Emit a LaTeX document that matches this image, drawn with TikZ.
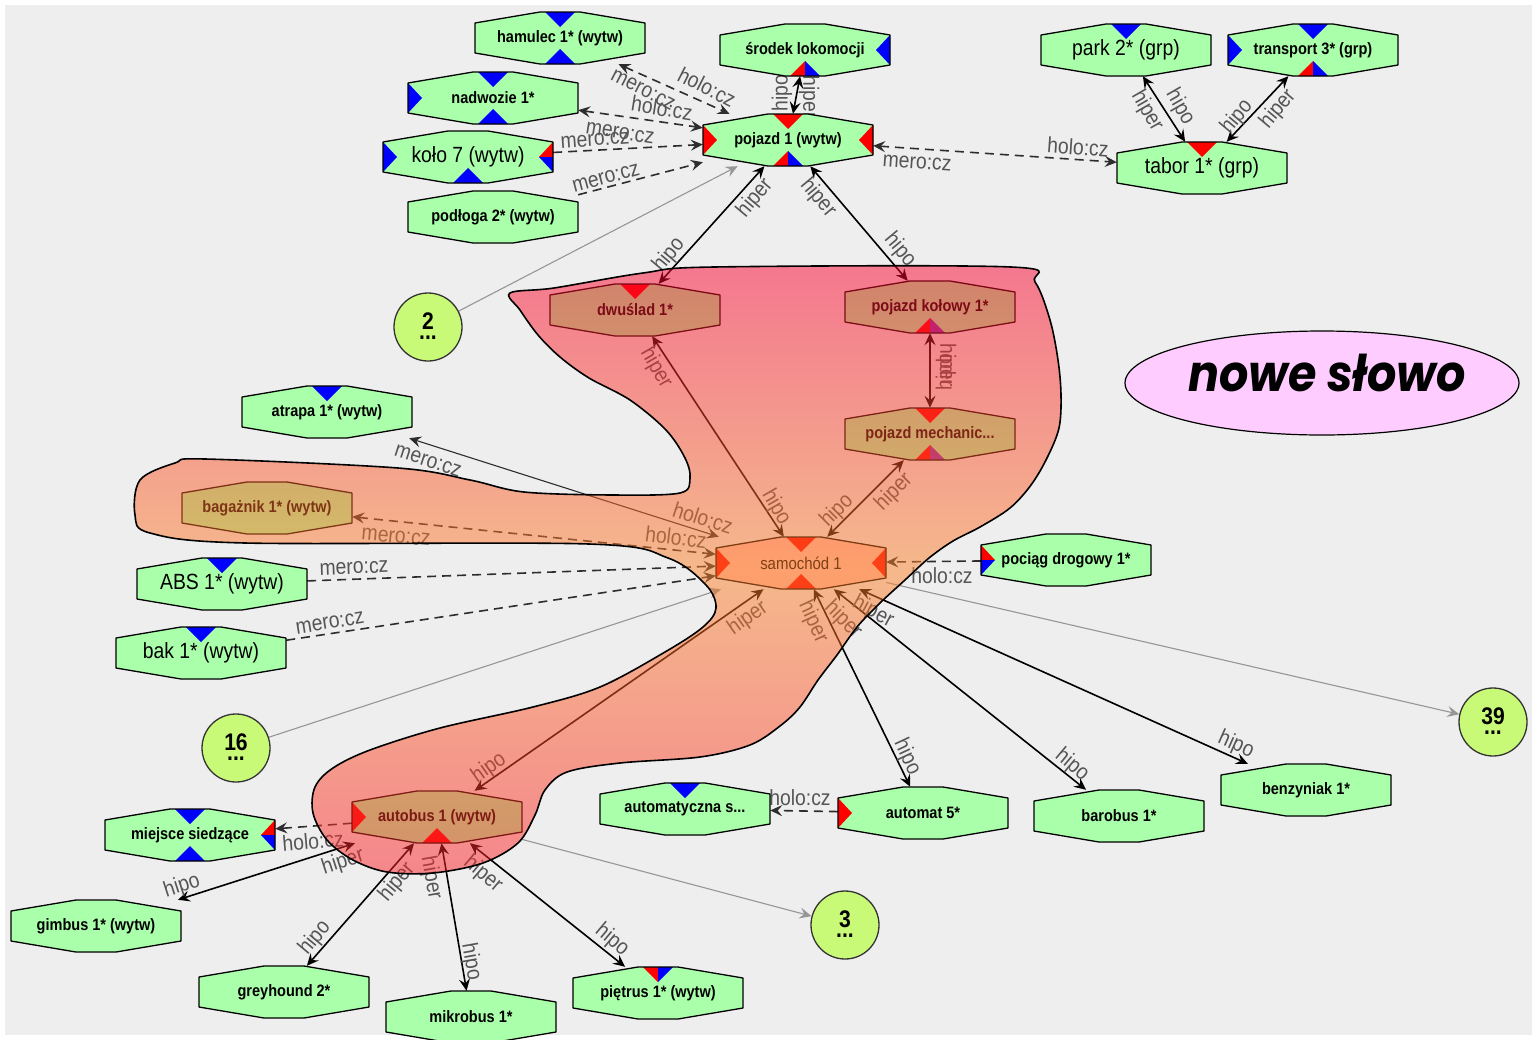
\documentclass[tikz,border=0pt]{standalone}
\usepackage{fontspec}
\usepackage{graphicx}
\setmainfont{Liberation Sans}
\newfontfamily\nfont[FakeStretch=0.88]{Liberation Sans}
\newfontfamily\pfont{Poppins}
\usetikzlibrary{arrows.meta,shapes.geometric}
\pgfdeclarelayer{bg}
\pgfdeclarelayer{edges}
\pgfdeclarelayer{blob}
\pgfsetlayers{bg,edges,main,blob}
\definecolor{ngreen}{RGB}{170,255,170}
\definecolor{nblue}{RGB}{0,0,255}
\definecolor{nred}{RGB}{255,0,0}
\definecolor{npurple}{RGB}{140,40,170}
\definecolor{bgray}{RGB}{238,238,238}
\definecolor{lblgray}{RGB}{85,85,85}
\definecolor{dashgray}{RGB}{45,45,45}
\definecolor{arrgray}{RGB}{150,150,150}
\definecolor{circfill}{RGB}{200,250,120}
\definecolor{salmon}{RGB}{255,190,178}
\definecolor{pinkfill}{RGB}{255,204,255}
\definecolor{blobtop}{RGB}{250,2,48}
\definecolor{blobmid}{RGB}{252,132,42}
\definecolor{blobbot}{RGB}{252,32,42}
\newcommand\nb{\nfont\bfseries\fontsize{16.5}{18}\selectfont}
\newcommand\nl{\nfont\fontsize{22}{24}\selectfont}
\newcommand\nsam{\nfont\fontsize{17}{19}\selectfont}
\newcommand\TT[1]{\fill[#1] (-15,-26) -- (15,-26) -- (0,-11) -- cycle;}
\newcommand\TB[1]{\fill[#1] (-15,26) -- (15,26) -- (0,11) -- cycle;}
\newcommand\TL[1]{\fill[#1] (-85,-15) -- (-85,15) -- (-71,0) -- cycle;}
\newcommand\TR[1]{\fill[#1] (85,-15) -- (85,15) -- (71,0) -- cycle;}
\newcommand\TTs[2]{\fill[#1] (-15,-26) -- (0,-26) -- (0,-11) -- cycle;\fill[#2] (0,-26) -- (15,-26) -- (0,-11) -- cycle;}
\newcommand\TBs[2]{\fill[#1] (-15,26) -- (0,26) -- (0,11) -- cycle;\fill[#2] (0,26) -- (15,26) -- (0,11) -- cycle;}
\newcommand\TRs[2]{\fill[#1] (85,-15) -- (71,0) -- (85,0) -- cycle;\fill[#2] (85,0) -- (71,0) -- (85,15) -- cycle;}
\newcommand\TLs[2]{\fill[#1] (-85,-15) -- (-71,0) -- (-85,0) -- cycle;\fill[#2] (-85,0) -- (-71,0) -- (-85,15) -- cycle;}
\newcommand\hexn[7]{%
  \begin{scope}[shift={(#2,#3)}]
    \fill[#4] (-85,-15) -- (-20,-26) -- (20,-26) -- (85,-15) -- (85,15) -- (20,26) -- (-20,26) -- (-85,15) -- cycle;
    #5
    \draw[line width=1.3pt, line join=round] (-85,-15) -- (-20,-26) -- (20,-26) -- (85,-15) -- (85,15) -- (20,26) -- (-20,26) -- (-85,15) -- cycle;
  \end{scope}
  \node[hexlbl, font=#6] (#1) at (#2,#3) {#7};
}
\newcommand\lb[5]{\node[lbl, rotate=#5] (#1) at (#3,#4) {#2};}
\tikzset{
  hexlbl/.style={rectangle, minimum width=170pt, minimum height=52pt, inner sep=0pt, text=black},
  rel/.style={line width=1.6pt, draw=black, <->},
  arel/.style={line width=1.1pt, draw=dashgray, <->},
  drel/.style={line width=1.6pt, draw=dashgray, dash pattern=on 9pt off 6pt, <->},
  drelone/.style={line width=1.6pt, draw=dashgray, dash pattern=on 9pt off 6pt, ->},
  grel/.style={line width=1.1pt, draw=arrgray, ->},
  lbl/.style={font=\nfont\fontsize{22}{24}\selectfont, text=lblgray, inner sep=0pt},
  circ/.style={circle, draw=black!80, line width=1.3pt, fill=circfill, minimum size=68pt, inner sep=0pt},
  cnum/.style={font=\nfont\bfseries\fontsize{24}{24}\selectfont, inner sep=0pt},
}
\begin{document}
\begin{tikzpicture}[x=1pt, y=-1pt, >={Stealth[length=12pt,width=11pt,inset=4.5pt]}]
\useasboundingbox (0,0) rectangle (1537,1039);
\begin{pgfonlayer}{bg}
\fill[white] (0,0) rectangle (1537,1039);
\fill[bgray] (5,5) rectangle (1532,1035);
\end{pgfonlayer}

% ---------- nodes ----------
\hexn{ham}{560}{38}{ngreen}{\TT{nblue}\TB{nblue}}{\nb}{hamulec 1* (wytw)}
\hexn{srod}{805}{50}{ngreen}{\TR{nblue}\TBs{nred}{nblue}}{\nb}{środek lokomocji}
\hexn{nadw}{493}{98}{ngreen}{\TL{nblue}\TT{nblue}\TB{nblue}}{\nb}{nadwozie 1*}
\hexn{kolo}{468}{157}{ngreen}{\TL{nblue}\TB{nblue}\TRs{nred}{nblue}}{\nl}{koło 7 (wytw)}
\hexn{podl}{493}{217}{ngreen}{}{\nb}{podłoga 2* (wytw)}
\hexn{poj}{788}{140}{ngreen}{\TL{nred}\TT{nred}\TR{nred}\TBs{nred}{nblue}}{\nb}{pojazd 1 (wytw)}
\hexn{park}{1126}{50}{ngreen}{\TT{nblue}}{\nl}{park 2* (grp)}
\hexn{transp}{1313}{50}{ngreen}{\TL{nblue}\TT{nblue}\TBs{nred}{nblue}}{\nb}{transport 3* (grp)}
\hexn{tabor}{1202}{168}{ngreen}{\TT{nred}}{\nl}{tabor 1* (grp)}
\hexn{dwus}{635}{310}{ngreen}{\TT{nred}}{\nb}{dwuślad 1*}
\hexn{kolowy}{930}{307}{ngreen}{\TBs{nred}{npurple}}{\nb}{pojazd kołowy 1*}
\hexn{mech}{930}{434}{ngreen}{\TT{nred}\TBs{nred}{npurple}}{\nb}{pojazd mechanic...}
\hexn{atrapa}{327}{412}{ngreen}{\TT{nblue}}{\nb}{atrapa 1* (wytw)}
\hexn{bagaz}{267}{508}{ngreen}{}{\nb}{bagażnik 1* (wytw)}
\hexn{samo}{801}{563}{salmon}{\TL{nred}\TT{nred}\TB{nred}\TR{nred}}{\nsam}{samochód 1}
\hexn{pociag}{1066}{560}{ngreen}{\TLs{nred}{nblue}}{\nb}{pociąg drogowy 1*}
\hexn{abs}{222}{584}{ngreen}{\TT{nblue}}{\nl}{ABS 1* (wytw)}
\hexn{bak}{201}{653}{ngreen}{\TT{nblue}}{\nl}{bak 1* (wytw)}
\hexn{autob}{437}{817}{ngreen}{\TL{nred}\TB{nred}}{\nb}{autobus 1 (wytw)}
\hexn{miejsce}{190}{835}{ngreen}{\TT{nblue}\TB{nblue}\TRs{nred}{nblue}}{\nb}{miejsce siedzące}
\hexn{autsa}{685}{809}{ngreen}{\TT{nblue}}{\nb}{automatyczna s...}
\hexn{autom}{923}{813}{ngreen}{\TL{nred}}{\nb}{automat 5*}
\hexn{barob}{1119}{816}{ngreen}{}{\nb}{barobus 1*}
\hexn{benz}{1306}{790}{ngreen}{}{\nb}{benzyniak 1*}
\hexn{gimb}{96}{926}{ngreen}{}{\nb}{gimbus 1* (wytw)}
\hexn{grey}{284}{992}{ngreen}{}{\nb}{greyhound 2*}
\hexn{mikro}{471}{1017}{ngreen}{}{\nb}{mikrobus 1*}
\hexn{pietr}{658}{993}{ngreen}{\TTs{nred}{nblue}}{\nb}{piętrus 1* (wytw)}

% circles
\node[circ] (c2) at (428,327) {};
\node[cnum] (c2n) at (428,321) {2};
\node[cnum] (c2d) at (428,338) {...};
\node[circ] (c16) at (236,748) {};
\node[cnum] (c16n) at (236,742) {16};
\node[cnum] (c16d) at (236,759) {...};
\node[circ] (c39) at (1493,722) {};
\node[cnum] (c39n) at (1493,716) {39};
\node[cnum] (c39d) at (1493,733) {...};
\node[circ] (c3) at (845,925) {};
\node[cnum] (c3n) at (845,919) {3};
\node[cnum] (c3d) at (845,936) {...};

% new word
\node[ellipse, draw=black, line width=1.2pt, fill=pinkfill, minimum width=394pt, minimum height=104pt, inner sep=0pt] (nowe) at (1322,383) {};
\node[inner sep=0pt] (nowet) at (1327,373) {\scalebox{1}[1.1]{\pfont\bfseries\itshape\fontsize{46}{48}\selectfont nowe słowo}};

% ---------- edges ----------
\begin{pgfonlayer}{edges}
\draw[drel] (ham) -- (poj);
\draw[drel] (nadw) -- (poj);
\draw[drelone] (kolo) -- (poj);
\draw[drelone] (podl) -- (poj);
\draw[rel] (srod) -- (poj);
\draw[drel] (poj) -- (tabor);
\draw[rel] (park) -- (tabor);
\draw[rel] (transp) -- (tabor);
\draw[rel] (poj) -- (dwus);
\draw[rel] (poj) -- (kolowy);
\draw[grel] (c2) -- (poj);
\draw[rel] (dwus) -- (samo);
\draw[rel] (kolowy) -- (mech);
\draw[rel] (mech) -- (samo);
\draw[arel] (atrapa) -- (samo);
\draw[drel] (bagaz) -- (samo);
\draw[drelone] (abs) -- (samo);
\draw[drelone] (bak) -- (samo);
\draw[drelone] (pociag) -- (samo);
\draw[grel] (c16) -- (samo);
\draw[grel] (samo) -- (c39);
\draw[rel] (samo) -- (autob);
\draw[rel] (samo) -- (autom);
\draw[rel] (samo) -- (barob);
\draw[rel] (samo) -- (benz);
\draw[drelone] (autom) -- (autsa);
\draw[drelone] (autob) -- (miejsce);
\draw[rel] (autob) -- (gimb);
\draw[rel] (autob) -- (grey);
\draw[rel] (autob) -- (mikro);
\draw[rel] (autob) -- (pietr);
\draw[grel] (autob) -- (c3);
% labels
\lb{l1}{mero:cz}{643}{90}{-27}
\lb{l2}{holo:cz}{707}{87}{-27}
\lb{l3}{holo:cz}{662}{108}{-9}
\lb{l4}{mero:cz}{620}{133}{-9}
\lb{l5}{mero:cz}{595}{140}{4}
\lb{l6}{mero:cz}{606}{178}{15}
\lb{l7}{hipo}{782}{93}{90}
\lb{l8}{hiper}{809}{97}{-90}
\lb{l9}{mero:cz}{917}{163}{-4}
\lb{l10}{holo:cz}{1078}{147}{-4}
\lb{l11}{hiper}{1147}{111}{-60}
\lb{l12}{hipo}{1180}{107}{-60}
\lb{l13}{hipo}{1237}{117}{50}
\lb{l14}{hiper}{1278}{109}{50}
\lb{l15}{hiper}{755}{198}{50}
\lb{l16}{hipo}{669}{255}{50}
\lb{l17}{hiper}{818}{198}{-50}
\lb{l18}{hipo}{900}{250}{-50}
\lb{l19}{hiper}{656}{368}{-60}
\lb{l20}{hipo}{776}{507}{-60}
\lb{l21}{hiper}{946}{365}{-90}
\lb{l22}{hipo}{946}{372}{90}
\lb{l23}{hiper}{894}{492}{45}
\lb{l24}{hipo}{837}{511}{45}
\lb{l25}{mero:cz}{428}{461}{-18}
\lb{l26}{holo:cz}{703}{518}{-18}
\lb{l27}{mero:cz}{396}{537}{-5}
\lb{l28}{holo:cz}{676}{537}{-7}
\lb{l29}{mero:cz}{354}{568}{2}
\lb{l30}{mero:cz}{330}{623}{9}
\lb{l31}{holo:cz}{942}{576}{0}
\lb{l32}{hiper}{748}{618}{35}
\lb{l33}{hipo}{489}{768}{35}
\lb{l34}{hiper}{813}{622}{-65}
\lb{l35}{hipo}{907}{757}{-65}
\lb{l36}{hiper}{843}{620}{-45}
\lb{l37}{hipo}{1072}{765}{-40}
\lb{l38}{hiper}{873}{612}{-28}
\lb{l39}{hipo}{1236}{745}{-24}
\lb{l40}{holo:cz}{800}{798}{0}
\lb{l41}{holo:cz}{313}{841}{5}
\lb{l42}{hiper}{343}{862}{18}
\lb{l43}{hipo}{182}{886}{18}
\lb{l44}{hiper}{397}{882}{50}
\lb{l45}{hipo}{315}{938}{50}
\lb{l46}{hiper}{431}{878}{-80}
\lb{l47}{hipo}{471}{962}{-80}
\lb{l48}{hiper}{483}{874}{-40}
\lb{l49}{hipo}{612}{940}{-40}
\end{pgfonlayer}

% ---------- highlighted region ----------
\begin{pgfonlayer}{blob}
\draw[line width=1.6pt, fill opacity=0.5, top color=blobtop, bottom color=blobbot, middle color=blobmid]
  plot[smooth cycle, tension=0.55] coordinates {
  (510,293) (554,288) (643,273) (714,267) (1011,267) (1035,282) (1050,320) (1058,360) (1061,395) (1059,428)
  (1047,458) (1031,485) (1010,508) (980,527) (953,541) (929,558) (905,580) (880,603) (857,627) (837,655)
  (818,680) (800,707) (780,726) (750,745) (700,757) (620,763) (567,772) (545,790) (535,815) (518,843)
  (483,863) (433,873) (387,872) (353,860) (327,840) (313,813) (315,787) (333,768) (370,750) (440,728)
  (533,707) (600,687) (665,652) (703,627) (716,608) (706,585) (668,558) (589,544) (245,543) (150,533)
  (135,515) (140,480) (175,463) (205,459) (398,468) (470,480) (524,492) (613,495) (680,493) (690,478)
  (685,458) (666,430) (630,400) (589,378) (560,357) (538,335) (520,310)};
\end{pgfonlayer}
\end{tikzpicture}
\end{document}
